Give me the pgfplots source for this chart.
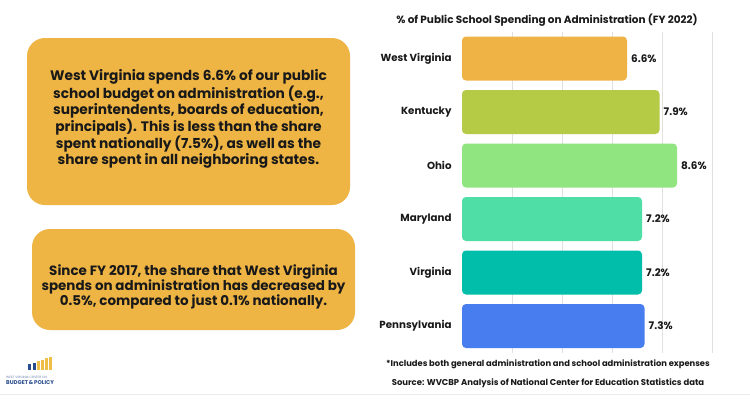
\documentclass[border=0pt]{standalone}
\usepackage{fontspec}
\setmainfont{Poppins}
\usepackage{pgfplots}
\pgfplotsset{compat=1.18}
\definecolor{boxc}{RGB}{238,180,68}
\definecolor{cWV}{RGB}{238,178,69}
\definecolor{cKY}{RGB}{181,203,69}
\definecolor{cOH}{RGB}{145,229,128}
\definecolor{cMD}{RGB}{78,222,166}
\definecolor{cVA}{RGB}{0,190,170}
\definecolor{cPA}{RGB}{72,125,240}
\definecolor{logoblue}{RGB}{40,75,140}
\definecolor{logogold}{RGB}{238,190,70}
\definecolor{txt}{RGB}{25,25,25}
\begin{document}
\begin{tikzpicture}[x=1bp,y=1bp]
\path[use as bounding box] (0,0) rectangle (750,410);
\fill[white] (0,0) rectangle (750,410);
% text boxes
\fill[boxc, rounded corners=18bp] (27,205) rectangle (350,372);
\node[align=center, text=txt, font=\bfseries\fontsize{13.8}{15.9}\selectfont] at (188.5,291)
{West Virginia spends 6.6\% of our public\\school budget on administration (e.g.,\\superintendents, boards of education,\\principals). This is less than the share\\spent nationally (7.5\%), as well as the\\share spent in all neighboring states.};
\fill[boxc, rounded corners=18bp] (32,80) rectangle (355,181);
\node[align=center, text=txt, font=\bfseries\fontsize{13.5}{15.2}\selectfont] at (193.5,123)
{Since FY 2017, the share that West Virginia\\spends on administration has decreased by\\0.5\%, compared to just 0.1\% nationally.};
% separator line
\draw[black!8, line width=0.8bp] (0,16) -- (750,16);
% logo
\fill[logoblue] (28,40) rectangle (31,46);
\fill[logoblue] (32.5,40) rectangle (35.5,47.5);
\fill[logogold] (37,40) rectangle (39.5,49);
\fill[logogold] (41,40) rectangle (43.5,50.5);
\fill[logogold] (45,40) rectangle (47.5,52);
\fill[logogold] (49,40) rectangle (51.5,53.5);
\node[text=logoblue!70, font=\fontsize{3.2}{4}\selectfont, inner sep=0pt, anchor=west] at (6,32.5) {WEST VIRGINIA CENTER ON};
\node[text=logoblue, font=\bfseries\fontsize{5.5}{7}\selectfont, inner sep=0pt, anchor=west] at (6,27.5) {BUDGET\,\&\,POLICY};
% title and notes
\node[text=txt, font=\bfseries\fontsize{10.5}{12}\selectfont] at (547,390) {\% of Public School Spending on Administration (FY 2022)};
\node[text=txt, font=\bfseries\fontsize{8.4}{10}\selectfont] at (548,46) {*Includes both general administration and school administration expenses};
\node[text=txt, font=\bfseries\fontsize{8.5}{10}\selectfont] at (548,27) {Source: WVCBP Analysis of National Center for Education Statistics data};
\begin{axis}[
  at={(462bp,57.25bp)}, anchor=south west,
  scale only axis, width=250bp, height=321bp,
  xmin=0, xmax=10, ymin=-0.5, ymax=5.5, y dir=reverse,
  xbar, bar width=44bp, bar shift=0pt,
  ytick={0,1,2,3,4,5},
  yticklabels={West Virginia,Kentucky,Ohio,Maryland,Virginia,Pennsylvania},
  xtick={2,4,6,8,10}, xticklabels={},
  xmajorgrids, major grid style={draw=black!12, line width=0.8bp},
  axis line style={draw=none}, tick style={draw=none},
  yticklabel style={anchor=east, inner sep=0pt, xshift=-6bp, text=txt, font=\bfseries\fontsize{10.3}{12}\selectfont},
  point meta=x,
  nodes near coords={\pgfmathprintnumber[fixed,precision=1,fixed zerofill,assume math mode=true]{\pgfplotspointmeta}\%},
  nodes near coords align={horizontal},
  every node near coord/.append style={text=txt, font=\bfseries\fontsize{10.5}{12}\selectfont, inner sep=0pt, xshift=4bp},
  clip=false,
]
\addplot[fill=cWV, draw=none, rounded corners=4bp] coordinates {(6.6,0)};
\addplot[fill=cKY, draw=none, rounded corners=4bp] coordinates {(7.9,1)};
\addplot[fill=cOH, draw=none, rounded corners=4bp] coordinates {(8.6,2)};
\addplot[fill=cMD, draw=none, rounded corners=4bp] coordinates {(7.2,3)};
\addplot[fill=cVA, draw=none, rounded corners=4bp] coordinates {(7.2,4)};
\addplot[fill=cPA, draw=none, rounded corners=4bp] coordinates {(7.3,5)};
\end{axis}
\end{tikzpicture}
\end{document}
